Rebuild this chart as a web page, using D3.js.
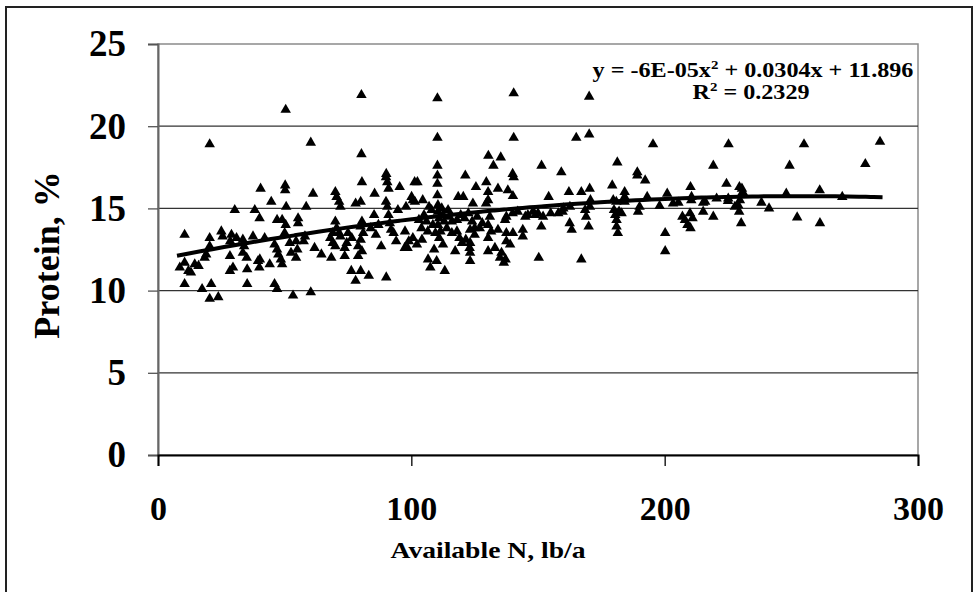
<!DOCTYPE html>
<html><head><meta charset="utf-8">
<script src="https://cdn.jsdelivr.net/npm/d3@7"></script>
<style>html,body{margin:0;padding:0;background:#fff;}svg{display:block;}</style>
</head><body>
<svg id="chart" width="979" height="592"></svg>
<script>
const xTicks = [0, 100, 200, 300];
const yTicks = [0, 5, 10, 15, 20, 25];
const xTitle = "Available N, lb/a";
const yTitle = "Protein, %";
const trendCoef = [-6e-05, 0.0304, 11.896]; // a, b, c  (y = a x^2 + b x + c)
const trendRange = [7.5, 286];

// Available N (lb/a)
const availN = [
 8.6,10.5,12,14.5,13,10.5,10.5,17.4,21,20.4,23.8,18.4,20.4,20.4,20.4,16,19,
 25,25.5,30.3,29,31,28.5,28.4,29.6,28.4,33.5,34,33.5,35,35.2,35.2,37.5,38.2,39.5,40,
 40.1,40.5,40.2,42.1,44.1,44.7,46,47,46,47,47.5,48.5,49,47,49,50.4,50.2,50.2,50.6,50,50.4,53.3,55.3,55.3,54.5,55,54.5,58.5,57.5,58,52,52.5,
 60.3,60.3,61.2,61.8,64.5,68.4,68,69,70,69,70,70.5,71.5,72,70,70.5,71.5,72,73.7,73.7,76.3,78,80,83.2,78,80,80.5,80.3,80.3,80.5,80,81,80,79,80.5,79,75,76.5,74.5,
 85.5,85.3,88.1,90.1,90.1,90,90.5,91,90,90.5,91,91.5,92,93,94,95.4,94.7,97.9,97.4,97.5,99,98.5,87,86,84,
 100.6,100.6,101.3,102.4,100.1,101.4,102.2,104.2,104.5,103,104,105,106,106.5,106.6,107.5,109,110,113.2,108,108.5,109.5,110.3,110.3,110.3,110.3,110.3,110.3,110.5,110.5,111,110.5,111.5,112,112.5,113,114,114.5,115,116,116,111,112.5,107,
 117.3,118,119,120,121.5,123,125,125,118.5,120.5,121.3,124.3,125.5,118,119.5,121,122.5,124,126,123.2,123.2,123.2,123.2,128,127,
 129.6,130.4,132.4,135.3,130.3,130.3,129.5,130.3,130.3,130.3,131,131.5,134.2,134.2,135,135.6,137.2,137.5,137.5,138.1,140.1,140.1,137,137.5,140.4,140.4,140.4,140,139,140,133,136.5,
 142,144,144,145,146,148,149,150,152,151.3,150.3,151.4,154.2,155,158,159.2,159.7,160,
 162.2,162.5,163.3,162.6,165.1,167.1,167.1,168.6,169,170,170.4,170.7,170.5,170.2,170.2,179.3,179.7,180.9,181.3,180,180.5,181,181,181.5,182,183,184.2,184.2,184.2,
 189.2,189.2,192.3,193.1,190.1,189.5,195.4,198,201,200.2,200.2,203.3,205.4,
 207,208,209,210.2,210.2,210.6,210.5,210,211,215.2,216,215.2,219.2,219.2,220.5,224.4,225.1,225,225.2,229,229.7,227.7,229.4,230.2,230.5,230.8,229.5,
 238.2,241.2,248,249.3,252.3,255,261.2,261.3,270.1,279.2,285
];
// Protein (%)
const protein = [
 11.4,11.7,11.2,11.6,11.1,13.4,10.4,10.1,10.4,9.5,9.6,12.0,13.2,12.7,18.9,11.5,12.2,
 13.6,13.3,14.9,13.4,13.2,13.0,12.1,11.4,11.2,13.1,12.7,12.3,12.0,11.3,10.4,13.3,14.9,11.8,11.4,
 14.4,16.2,11.9,13.2,11.6,15.4,10.4,10.1,12.8,12.5,12.2,11.9,11.6,14.3,14.3,14.0,16.4,16.1,15.1,13.5,21.0,9.7,14.4,14.1,13.0,12.5,12.0,15.1,13.0,13.3,12.9,12.3,
 19.0,9.9,15.9,12.6,12.2,12.0,13.2,12.9,12.7,13.5,16.0,15.7,15.4,15.1,14.2,13.8,13.5,13.3,12.6,12.1,11.2,10.6,11.2,10.9,15.3,15.4,16.6,18.3,21.9,14.2,13.9,13.5,13.1,12.7,12.4,12.1,13.5,13.2,12.9,
 15.9,14.6,12.7,10.8,17.1,16.9,16.6,16.2,15.4,15.1,14.6,14.1,13.7,13.5,13.0,16.3,14.9,15.1,12.6,13.6,13.0,12.6,14.0,13.4,13.8,
 13.2,15.5,16.6,16.6,15.7,15.4,12.8,13.1,15.5,14.3,13.8,14.6,14.2,13.6,11.9,11.4,12.5,11.8,11.2,14.9,14.0,13.5,21.7,19.3,17.6,17.0,16.5,15.8,15.2,14.8,14.4,14.0,13.6,15.0,14.6,14.2,13.8,14.9,14.5,14.2,13.5,13.2,12.8,15.1,
 12.4,13.6,13.2,12.9,13.1,12.6,13.4,13.8,15.7,15.7,17.0,15.3,16.3,14.3,14.6,14.4,14.7,14.2,14.5,13.7,12.9,12.3,11.8,14.1,13.8,
 16.6,18.2,17.6,18.1,16.0,15.5,15.3,14.0,13.2,12.4,14.5,13.6,16.2,13.7,12.0,12.3,11.9,13.5,13.0,16.1,15.75,13.5,14.3,14.5,22.0,19.3,16.9,17.1,12.8,14.7,12.6,11.7,
 14.8,13.7,13.3,14.5,14.6,14.8,14.6,14.7,14.5,13.9,12.0,17.6,15.7,14.7,14.7,17.2,14.8,15.0,
 16.0,14.1,13.7,15.1,19.3,16.0,11.9,14.9,14.5,13.9,16.2,15.5,15.1,21.8,19.5,16.4,15.5,15.4,17.8,14.9,14.6,14.3,13.9,13.5,14.8,14.7,16.0,15.7,15.4,
 17.0,17.2,16.7,15.7,15.1,14.8,18.9,15.15,15.9,13.5,12.4,15.3,15.35,
 14.5,14.3,14.0,13.8,16.3,15.7,15.5,14.7,14.4,15.35,15.4,14.8,17.6,14.5,15.6,16.5,15.6,15.45,18.9,15.2,15.5,15.1,14.8,14.1,16.2,16.0,16.3,
 15.35,15.0,15.9,17.6,14.45,18.9,16.1,14.1,15.7,17.7,19.05
];
const points = availN.map((v, i) => ({x: v, y: protein[i]}));

const svg = d3.select("#chart");
const plot = {left: 158, right: 918, top: 44, bottom: 455};
const x = d3.scaleLinear().domain([0, 300]).range([plot.left, plot.right]);
const y = d3.scaleLinear().domain([0, 25]).range([plot.bottom, plot.top]);
const font = "'Liberation Serif','Times New Roman',serif";

// outer frame
svg.append("rect").attr("x", 6).attr("y", 7).attr("width", 966).attr("height", 600)
  .attr("fill", "none").attr("stroke", "#222").attr("stroke-width", 2);

// plot border (gray)
svg.append("rect").attr("x", plot.left).attr("y", plot.top)
  .attr("width", plot.right - plot.left).attr("height", plot.bottom - plot.top)
  .attr("fill", "none").attr("stroke", "#8a8a8a").attr("stroke-width", 1.5);

// gridlines
svg.append("g").selectAll("line").data(yTicks.filter(d => d > 0 && d < 25)).join("line")
  .attr("x1", plot.left).attr("x2", plot.right)
  .attr("y1", d => y(d)).attr("y2", d => y(d))
  .attr("stroke", "#333").attr("stroke-width", 1.3);

// y axis
const yAxis = svg.append("g").attr("transform", `translate(${plot.left},0)`)
  .call(d3.axisLeft(y).tickValues(yTicks).tickSize(10).tickPadding(22).tickFormat(d3.format("d")));
yAxis.select(".domain").attr("stroke", "#666").attr("stroke-width", 2);
yAxis.selectAll(".tick line").attr("stroke", "#555").attr("stroke-width", 1.3);
yAxis.selectAll("text").attr("font-family", font).attr("font-weight", "bold")
  .attr("font-size", 37).attr("fill", "#000");

// x axis
const xAxis = svg.append("g").attr("transform", `translate(0,${plot.bottom})`)
  .call(d3.axisBottom(x).tickValues(xTicks).tickSize(11).tickPadding(30).tickFormat(d3.format("d")));
xAxis.select(".domain").attr("stroke", "#000").attr("stroke-width", 2);
xAxis.selectAll(".tick line").attr("stroke", "#000").attr("stroke-width", 1.3);
xAxis.selectAll("text").attr("font-family", font).attr("font-weight", "bold")
  .attr("font-size", 34).attr("fill", "#000");

// points
svg.append("g").selectAll("path").data(points).join("path")
  .attr("transform", d => `translate(${x(d.x)},${y(d.y)})`)
  .attr("d", d3.symbol(d3.symbolTriangle, 48))
  .attr("fill", "#000");

// trendline
const trendXs = d3.range(trendRange[0], trendRange[1] + 0.001, (trendRange[1] - trendRange[0]) / 60);
const f = v => trendCoef[0] * v * v + trendCoef[1] * v + trendCoef[2];
svg.append("path").datum(trendXs)
  .attr("d", d3.line().x(d => x(d)).y(d => y(f(d))).curve(d3.curveMonotoneX))
  .attr("fill", "none").attr("stroke", "#000").attr("stroke-width", 4);

// equation (horizontally stretched like the reference)
const eq = svg.append("text").attr("transform", "translate(753,77) scale(1.15,1)").attr("text-anchor", "middle")
  .attr("font-family", font).attr("font-weight", "bold").attr("font-size", 21);
eq.append("tspan").text("y = -6E-05x");
eq.append("tspan").attr("font-size", 13).attr("dy", -8).text("2");
eq.append("tspan").attr("dy", 8).text(" + 0.0304x + 11.896");
const r2 = svg.append("text").attr("transform", "translate(751,99) scale(1.15,1)").attr("text-anchor", "middle")
  .attr("font-family", font).attr("font-weight", "bold").attr("font-size", 21);
r2.append("tspan").text("R");
r2.append("tspan").attr("font-size", 13).attr("dy", -8).text("2");
r2.append("tspan").attr("dy", 8).text(" = 0.2329");

// axis titles
svg.append("text").attr("transform", "translate(488,558) scale(1.2,1)").attr("text-anchor", "middle")
  .attr("font-family", font).attr("font-weight", "bold").attr("font-size", 23).text(xTitle);
svg.append("text").attr("transform", "translate(59,255) rotate(-90)").attr("text-anchor", "middle")
  .attr("font-family", font).attr("font-weight", "bold").attr("font-size", 36).text(yTitle);
</script>
</body></html>
